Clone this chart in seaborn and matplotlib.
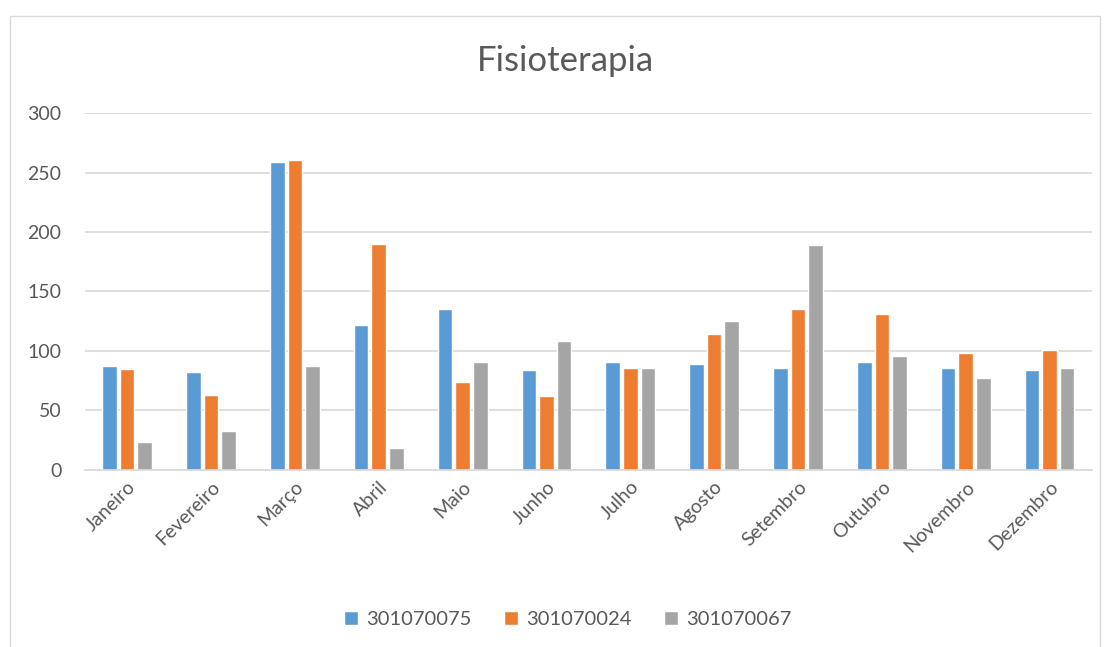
import pandas as pd
import numpy as np
import matplotlib.pyplot as plt
import seaborn as sns
from matplotlib.patches import Rectangle

# dados
meses = ["Janeiro", "Fevereiro", "Março", "Abril", "Maio", "Junho",
         "Julho", "Agosto", "Setembro", "Outubro", "Novembro", "Dezembro"]
serie_75 = [87, 82, 259, 122, 135, 84, 91, 89, 86, 91, 86, 84]
serie_24 = [85, 63, 261, 190, 74, 62, 86, 114, 135, 131, 98, 101]
serie_67 = [23, 33, 87, 18, 91, 108, 86, 125, 189, 96, 77, 86]
nomes = ["301070075", "301070024", "301070067"]
cores = ["#5B9BD5", "#ED7D31", "#A5A5A5"]

df = pd.DataFrame({
    "mes": meses * 3,
    "valor": serie_75 + serie_24 + serie_67,
    "codigo": [nomes[0]] * 12 + [nomes[1]] * 12 + [nomes[2]] * 12,
})

sns.set_theme(style="white")
plt.rcParams["font.family"] = ["Lato", "DejaVu Sans"]
texto = "#595959"

fig = plt.figure(figsize=(11.07, 6.47), dpi=100)
ax = fig.add_axes([0.077, 0.274, 0.909, 0.551])

sns.barplot(data=df, x="mes", y="valor", hue="codigo", order=meses,
            hue_order=nomes, palette=cores, width=0.63, gap=0.17,
            saturation=1, ax=ax, legend=True)

ax.set_ylim(0, 300)
ax.set_yticks(range(0, 301, 50))
ax.yaxis.grid(True, color="#D9D9D9", linewidth=1.2)
ax.set_axisbelow(True)
for s in ["top", "right", "left"]:
    ax.spines[s].set_visible(False)
ax.spines["bottom"].set_color("#D9D9D9")
ax.spines["bottom"].set_linewidth(1.2)
ax.tick_params(axis="both", length=0, colors=texto, labelsize=14)
ax.tick_params(axis="y", pad=17)
ax.tick_params(axis="x", pad=6)
plt.setp(ax.get_xticklabels(), rotation=45, ha="right", rotation_mode="anchor")
ax.set_xlabel("")
ax.set_ylabel("")

fig.text(0.511, 0.905, "Fisioterapia", ha="center", va="center",
         fontsize=25, color=texto)

handles, labels = ax.get_legend_handles_labels()
ax.get_legend().remove()
fig.legend(handles, labels, loc="center", bbox_to_anchor=(0.513, 0.042),
           ncol=3, frameon=False, fontsize=14.5, handlelength=0.7,
           handleheight=0.7, handletextpad=0.4, columnspacing=1.6,
           labelcolor=texto)

# borda do gráfico
fig.patches.append(Rectangle((0.009, -0.01), 0.985, 0.985, transform=fig.transFigure,
                             fill=False, edgecolor="#D9D9D9", linewidth=1))

fig.savefig("out.png", dpi=100)
